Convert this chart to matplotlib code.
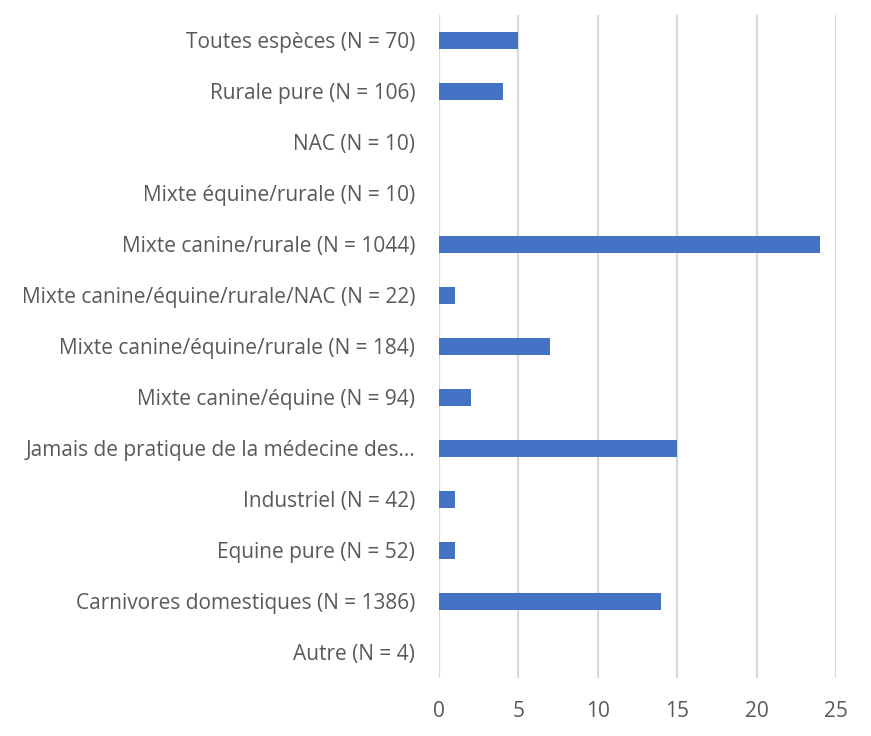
import matplotlib
matplotlib.use("Agg")
import matplotlib.pyplot as plt

# categories listed top to bottom as in the chart
categories = [
    "Toutes espèces (N = 70)",
    "Rurale pure (N = 106)",
    "NAC (N = 10)",
    "Mixte équine/rurale (N = 10)",
    "Mixte canine/rurale (N = 1044)",
    "Mixte canine/équine/rurale/NAC (N = 22)",
    "Mixte canine/équine/rurale (N = 184)",
    "Mixte canine/équine (N = 94)",
    "Jamais de pratique de la médecine des...",
    "Industriel (N = 42)",
    "Equine pure (N = 52)",
    "Carnivores domestiques (N = 1386)",
    "Autre (N = 4)",
]
values = [5, 4, 0, 0, 24, 1, 7, 2, 15, 1, 1, 14, 0]
xticks = [0, 5, 10, 15, 20, 25]

plt.rcParams["font.family"] = ["Open Sans", "DejaVu Sans"]
text_color = "#595959"

fig = plt.figure(figsize=(8.71, 7.36), dpi=100)
ax = fig.add_axes([0.504, 0.079, 0.456, 0.901])

pos = list(range(len(categories)))
ax.barh(pos, values, height=0.33, color="#4472C4", zorder=3)
ax.set_ylim(len(categories) - 0.5, -0.5)
ax.set_xlim(0, 25)
ax.set_xticks(xticks)
ax.set_yticks(pos)
ax.set_yticklabels(categories)

ax.grid(axis="x", color="#D9D9D9", linewidth=1.6, zorder=0)
for s in ax.spines.values():
    s.set_visible(False)
ax.tick_params(axis="both", length=0, colors=text_color, labelsize=15)
ax.tick_params(axis="x", pad=17)
ax.tick_params(axis="y", pad=17)

plt.savefig("out.png", dpi=100)
